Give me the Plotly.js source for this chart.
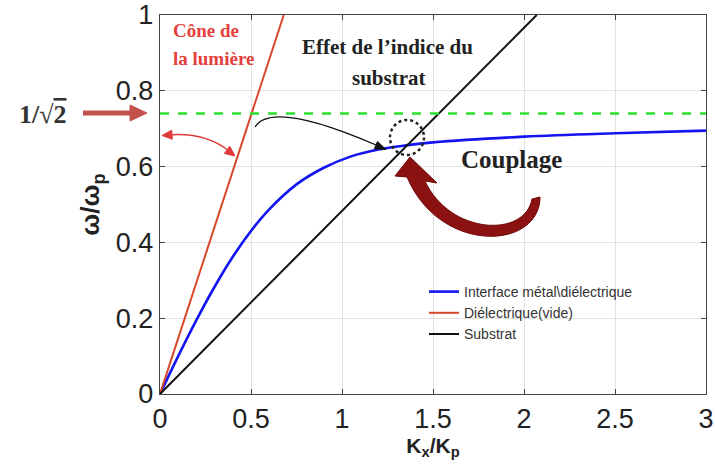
<!DOCTYPE html>
<html>
<head>
<meta charset="utf-8">
<script src="https://cdn.plot.ly/plotly-3.0.1.min.js"></script>
<style>html,body{margin:0;padding:0;background:#fff;}#chart{width:715px;height:473px;}</style>
</head>
<body>
<div id="chart"></div>
<script>
// ---- data ----
const blueX = [0, 0.1, 0.2, 0.3, 0.4, 0.5, 0.6, 0.75, 0.9, 1.05, 1.2, 1.35, 1.5, 2.0, 2.5, 3.0];
const blueY = [0, 0.1, 0.195, 0.283, 0.362, 0.43, 0.487, 0.553, 0.597, 0.627, 0.645, 0.656, 0.664, 0.679, 0.688, 0.695];
const redX = [0, 0.68];
const redY = [0, 1];
const blackX = [0, 2.07];
const blackY = [0, 1];
const limitX = [0, 3];
const limitY = [0.74, 0.74];
const names = ['Interface métal\\diélectrique', 'Diélectrique(vide)', 'Substrat'];
const xTicks = [0, 0.5, 1, 1.5, 2, 2.5, 3];
const xTickText = ['0', '0.5', '1', '1.5', '2', '2.5', '3'];
const yTicks = [0, 0.2, 0.4, 0.6, 0.8, 1];
const yTickText = ['0', '0.2', '0.4', '0.6', '0.8', '1'];

// pixel -> paper helpers for decorations
const L = 160, R = 706, T = 15, B = 394;
const PX = p => (p - L) / (R - L);
const PY = p => (B - p) / (B - T);
const P = (x, y) => PX(x) + ',' + PY(y);
function head(tx, ty, dx, dy, len, hw, color) {
  const n = Math.hypot(dx, dy); dx /= n; dy /= n;
  const bx = tx - len * dx, by = ty - len * dy;
  const c1 = [bx - hw * dy, by + hw * dx], c2 = [bx + hw * dy, by - hw * dx];
  return {type: 'path', xref: 'paper', yref: 'paper',
          path: 'M' + P(tx, ty) + ' L' + P(c1[0], c1[1]) + ' L' + P(c2[0], c2[1]) + ' Z',
          fillcolor: color, line: {color: color, width: 1}};
}

const traces = [
  {x: blueX, y: blueY, mode: 'lines', name: names[0], line: {color: '#1414f0', width: 2.6, shape: 'spline', smoothing: 1}},
  {x: redX, y: redY, mode: 'lines', name: names[1], line: {color: '#d9472b', width: 2}},
  {x: blackX, y: blackY, mode: 'lines', name: names[2], line: {color: '#111111', width: 2}},
  {x: limitX, y: limitY, mode: 'lines', showlegend: false, line: {color: '#2ee02e', width: 2.5, dash: 'dash'}}
];

const serif = 'Liberation Serif, Times New Roman, serif';
const annotations = [
  {xref: 'paper', yref: 'paper', x: PX(171), y: PY(30), xanchor: 'left', yanchor: 'middle', showarrow: false,
   text: '<b>Cône de</b>', font: {family: serif, size: 19, color: '#e4403c'}},
  {xref: 'paper', yref: 'paper', x: PX(171), y: PY(59), xanchor: 'left', yanchor: 'middle', showarrow: false,
   text: '<b>la lumière</b>', font: {family: serif, size: 19, color: '#e4403c'}},
  {xref: 'paper', yref: 'paper', x: PX(387), y: PY(47), xanchor: 'center', yanchor: 'middle', showarrow: false,
   text: '<b>Effet de l’indice du</b>', font: {family: serif, size: 21, color: '#222'}},
  {xref: 'paper', yref: 'paper', x: PX(389), y: PY(78), xanchor: 'center', yanchor: 'middle', showarrow: false,
   text: '<b>substrat</b>', font: {family: serif, size: 21, color: '#222'}},
  {xref: 'paper', yref: 'paper', x: PX(511), y: PY(160), xanchor: 'center', yanchor: 'middle', showarrow: false,
   text: '<b>Couplage</b>', font: {family: serif, size: 25, color: '#222'}},
  {xref: 'paper', yref: 'paper', x: PX(43), y: PY(115), xanchor: 'center', yanchor: 'middle', showarrow: false,
   text: '<b>1/√<span style="text-decoration:overline">2</span></b>', font: {family: serif, size: 26, color: '#333'}}
];

const shapes = [
  // thick arrow for 1/sqrt(2)
  {type: 'line', xref: 'paper', yref: 'paper', x0: PX(83), y0: PY(113), x1: PX(132), y1: PY(113),
   line: {color: '#c4524c', width: 5}},
  head(147, 113, 1, 0, 17, 8, '#c4524c'),
  // light-cone double arrow
  {type: 'path', xref: 'paper', yref: 'paper', path: 'M' + P(168, 135) + ' Q' + P(205, 132) + ' ' + P(229, 151),
   line: {color: '#e03a3a', width: 1.5}},
  head(162, 135.5, -40, 3, 10, 4.5, '#e03a3a'),
  head(235, 156, 26, 20, 10, 4.5, '#e03a3a'),
  // black curved arrow
  {type: 'path', xref: 'paper', yref: 'paper', path: 'M' + P(255, 127) + ' Q' + P(272, 100) + ' ' + P(376, 145),
   line: {color: '#111', width: 1.3}},
  head(386, 149.5, 0.92, 0.40, 11, 4, '#111'),
  // dotted circle
  {type: 'circle', xref: 'paper', yref: 'paper', x0: PX(390), x1: PX(424), y0: PY(155), y1: PY(120),
   line: {color: '#222', width: 2.5, dash: 'dot'}},
  // big dark red curved arrow
  {type: 'path', xref: 'paper', yref: 'paper',
   path: 'M' + P(540, 197) + ' C' + P(540, 250) + ' ' + P(440, 255) + ' ' + P(407, 177) +
         ' L' + P(395, 176) + ' L' + P(410, 157) + ' L' + P(437, 183) + ' L' + P(425, 181) +
         ' C' + P(450, 235) + ' ' + P(525, 238) + ' ' + P(532, 199) + ' Z',
   fillcolor: '#8c1212', line: {color: '#6e0a0a', width: 1}}
];

const layout = {
  width: 715, height: 473,
  margin: {l: L, r: 715 - R, t: T, b: 473 - B},
  paper_bgcolor: '#ffffff', plot_bgcolor: '#ffffff',
  showlegend: true,
  legend: {x: PX(424), y: PY(276), xanchor: 'left', yanchor: 'top', bgcolor: 'rgba(0,0,0,0)',
           font: {family: 'Liberation Sans, Arial, sans-serif', size: 14, color: '#333'}, tracegroupgap: 0},
  xaxis: {range: [0, 3], tickvals: xTicks, ticktext: xTickText, ticks: 'inside', ticklen: 5, tickcolor: '#444',
          showline: true, linecolor: '#444', linewidth: 1.2, mirror: 'ticks', showgrid: true, gridcolor: '#e2e2e2',
          zeroline: false, tickfont: {family: 'Liberation Sans, Arial, sans-serif', size: 27, color: '#222'},
          title: {text: '<b>K<sub>x</sub>/K<sub>p</sub></b>', font: {family: 'Liberation Sans, Arial, sans-serif', size: 21, color: '#222'}, standoff: 0}},
  yaxis: {range: [0, 1], tickvals: yTicks, ticktext: yTickText, ticks: 'inside', ticklen: 5, tickcolor: '#444',
          showline: true, linecolor: '#444', linewidth: 1.2, mirror: 'ticks', showgrid: true, gridcolor: '#e2e2e2',
          zeroline: false, tickfont: {family: 'Liberation Sans, Arial, sans-serif', size: 27, color: '#222'},
          title: {text: '<b>ω/ω<sub>p</sub></b>', font: {family: 'Liberation Sans, Arial, sans-serif', size: 26, color: '#222'}, standoff: 8}},
  annotations: annotations,
  shapes: shapes
};

Plotly.newPlot('chart', traces, layout, {displayModeBar: false, staticPlot: true});
</script>
</body>
</html>
